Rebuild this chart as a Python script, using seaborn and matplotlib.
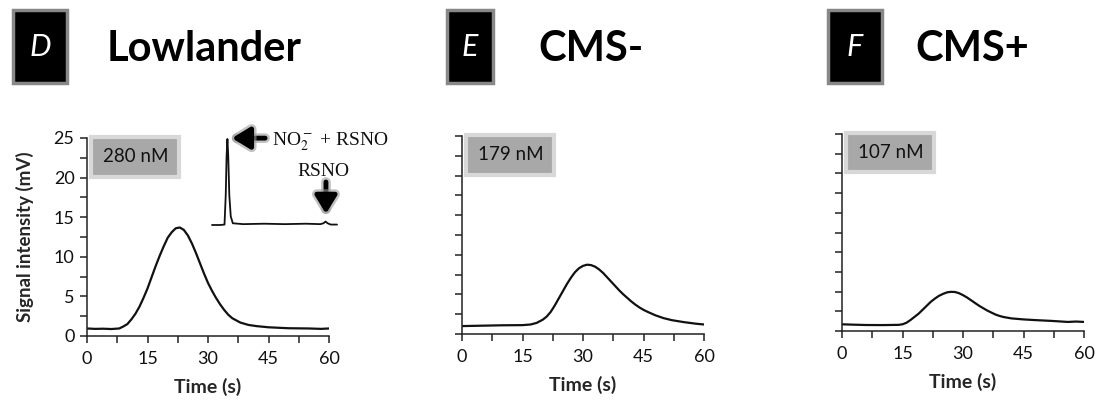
import matplotlib
matplotlib.use("Agg")
import matplotlib.pyplot as plt
import matplotlib.patheffects as pe
from matplotlib.patches import Rectangle
from matplotlib.ticker import MultipleLocator
import pandas as pd
import seaborn as sns

# traces: time (s) vs signal (mV)
time_d = [0, 2, 4, 6, 8, 9, 10, 11, 12, 13, 14, 15, 16, 17, 18, 19, 20, 21, 22, 23,
          24, 25, 26, 27, 28, 29, 30, 31, 32, 33, 34, 35, 36, 38, 40, 42, 45, 50, 55, 58, 60]
signal_d = [0.95, 0.9, 0.92, 0.88, 0.95, 1.2, 1.5, 2.1, 2.8, 3.7, 4.8, 6.0, 7.4, 8.8, 10.1,
            11.3, 12.4, 13.1, 13.6, 13.7, 13.4, 12.7, 11.7, 10.5, 9.2, 7.9, 6.7, 5.7, 4.8,
            4.0, 3.3, 2.7, 2.25, 1.7, 1.4, 1.25, 1.1, 0.98, 0.95, 0.9, 0.95]

time_e = [0, 5, 10, 15, 17, 18.5, 20, 21, 22, 23, 24, 25, 26, 27, 28, 29, 30, 31, 32, 33,
          34, 35, 36, 37, 38, 39, 40, 41, 42, 43, 44, 45, 46, 48, 50, 52, 55, 58, 60]
signal_e = [1.0, 1.05, 1.1, 1.12, 1.2, 1.4, 1.8, 2.2, 2.8, 3.6, 4.5, 5.4, 6.3, 7.1, 7.8,
            8.3, 8.6, 8.75, 8.7, 8.5, 8.15, 7.7, 7.15, 6.6, 6.05, 5.5, 5.0, 4.55, 4.1,
            3.7, 3.35, 3.05, 2.8, 2.35, 2.0, 1.75, 1.5, 1.3, 1.2]

time_f = [0, 3, 6, 10, 14, 15, 16, 17, 18, 19, 20, 21, 22, 23, 24, 25, 26, 27, 28, 29,
          30, 31, 32, 33, 34, 35, 36, 37, 38, 39, 40, 42, 45, 48, 52, 56, 58, 60]
signal_f = [0.85, 0.8, 0.76, 0.75, 0.78, 0.85, 1.05, 1.4, 1.8, 2.2, 2.7, 3.2, 3.7, 4.1,
            4.45, 4.7, 4.9, 4.97, 4.95, 4.8, 4.55, 4.25, 3.9, 3.55, 3.2, 2.9, 2.6, 2.35,
            2.1, 1.92, 1.78, 1.6, 1.47, 1.38, 1.28, 1.15, 1.2, 1.15]

# small inset trace in panel D (arbitrary units)
inset_time = [0, 4, 6.0, 6.6, 7.0, 7.4, 7.8, 8.3, 9.0, 10, 15, 25, 35, 45, 52, 53.5,
              54.5, 55.5, 57, 60]
inset_signal = [0, 0, 0.5, 35, 80, 100, 80, 35, 10, 2, 1, 1.5, 1, 1.5, 1, 2, 4, 2, 0.5, 0.5]

panel_letters = ["D", "E", "F"]
panel_titles = ["Lowlander", "CMS-", "CMS+"]
concentrations = ["280 nM", "179 nM", "107 nM"]
x_ticks = [0, 15, 30, 45, 60]
y_ticks = [0, 5, 10, 15, 20, 25]

sns.set_theme(style="ticks")
plt.rcParams["font.family"] = ["Lato", "DejaVu Sans"]
plt.rcParams["mathtext.fontset"] = "stix"

W, H = 1096, 401
fig = plt.figure(figsize=(W / 100, H / 100), dpi=100)

# axes positions in pixels: left, right, y(0), y(25)
ax_px = [(87, 329, 336, 138), (462, 704, 334, 136), (842, 1084, 331, 134)]
box_px = [(13, 67), (447, 493), (828, 882)]
title_x = [107, 538, 915]

traces = [(time_d, signal_d), (time_e, signal_e), (time_f, signal_f)]

for i, (t, s) in enumerate(traces):
    l, r, b, tp = ax_px[i]
    ax = fig.add_axes([l / W, 1 - b / H, (r - l) / W, (b - tp) / H])
    df = pd.DataFrame({"time": t, "signal": s})
    sns.lineplot(data=df, x="time", y="signal", ax=ax, color="#111111", lw=1.6)
    ax.set_xlim(0, 60)
    ax.set_ylim(0, 25)
    ax.set_xticks(x_ticks)
    ax.xaxis.set_minor_locator(MultipleLocator(7.5))
    ax.set_yticks(y_ticks)
    ax.yaxis.set_minor_locator(MultipleLocator(2.5))
    ax.tick_params(which="both", direction="out", length=5, width=1.1, color="#222222",
                   labelsize=13, labelcolor="#111111", pad=4)
    ax.tick_params(axis="x", pad=6)
    sns.despine(ax=ax)
    for sp in ["left", "bottom"]:
        ax.spines[sp].set_color("#222222")
        ax.spines[sp].set_linewidth(1.1)
    ax.set_xlabel("Time (s)", fontsize=14, fontweight="bold", labelpad=8)
    if i == 0:
        ax.set_ylabel("Signal intensity (mV)", fontsize=13.5, fontweight="bold", labelpad=14)
    else:
        ax.set_ylabel("")
        ax.set_yticklabels([])
    # grey concentration box
    ax.text(0.2, 0.905, concentrations[i], transform=ax.transAxes, ha="center",
            va="center", fontsize=13.5, color="#111111",
            bbox=dict(boxstyle="square,pad=0.6", facecolor="#a8a8a8",
                      edgecolor="#d8d8d8", linewidth=3))

    # panel letter square and title
    bx0, bx1 = box_px[i]
    fig.patches.append(Rectangle((bx0 / W, 1 - 83 / H), (bx1 - bx0) / W, 73 / H,
                                 transform=fig.transFigure, facecolor="black",
                                 edgecolor="#888888", linewidth=2.5))
    fig.text((bx0 + bx1) / 2 / W, 1 - 47 / H, panel_letters[i], color="white",
             fontsize=22, style="italic", ha="center", va="center")
    fig.text(title_x[i] / W, 1 - 49 / H, panel_titles[i], fontsize=30,
             fontweight="bold", ha="left", va="center", color="black")

# inset in panel D
ins = fig.add_axes([212 / W, 1 - 225 / H, 125 / W, 86 / H])
sns.lineplot(x=inset_time, y=inset_signal, ax=ins, color="#111111", lw=1.3)
ins.set_xlim(0, 60)
ins.set_ylim(0, 100)
ins.axis("off")
for ln in ins.lines:
    ln.set_clip_on(False)

glow = [pe.withStroke(linewidth=7, foreground="#9a9a9a", alpha=0.6)]
ins.annotate("", xy=(9.6, 101), xytext=(25.5, 101),
             arrowprops=dict(arrowstyle="-|>,head_length=0.9,head_width=0.55", lw=3.5,
                             color="black", shrinkA=0, shrinkB=0, path_effects=glow),
             annotation_clip=False)
ins.text(28.8, 97, r"NO$_2^-$ + RSNO", fontsize=14, family=["Liberation Serif"],
         ha="left", va="center", color="#111111")
ins.text(53.3, 62, "RSNO", fontsize=14, family=["Liberation Serif"],
         ha="center", va="center", color="#111111")
ins.annotate("", xy=(54.7, 13), xytext=(54.7, 50),
             arrowprops=dict(arrowstyle="-|>,head_length=0.9,head_width=0.55", lw=3.5,
                             color="black", shrinkA=0, shrinkB=0, path_effects=glow),
             annotation_clip=False)

fig.savefig("out.png", dpi=100)
